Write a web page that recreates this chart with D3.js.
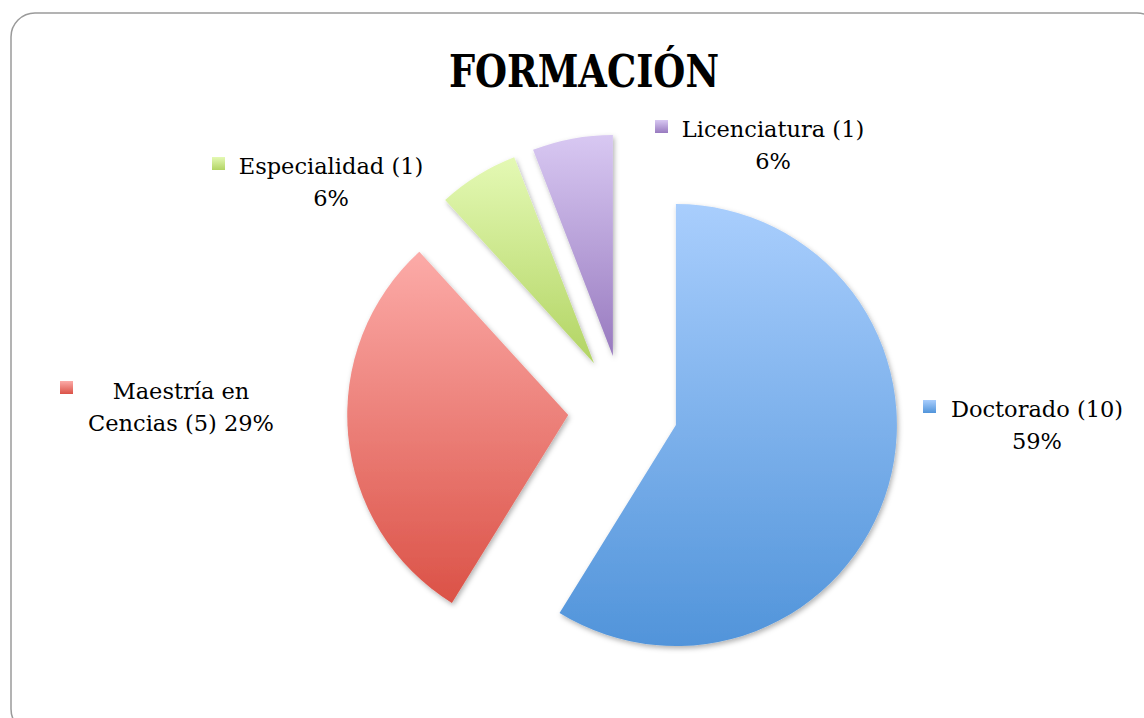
<!DOCTYPE html>
<html>
<head>
<meta charset="utf-8">
<script src="https://cdn.jsdelivr.net/npm/d3@7"></script>
<style>
  html, body { margin: 0; padding: 0; background: #fff; }
  svg { display: block; }
</style>
</head>
<body>
<svg id="chart" width="1144" height="718"></svg>
<script>
// ---- data ----
const categories = ["Doctorado", "Maestría en Cencias", "Especialidad", "Licenciatura"];
const values = [10, 5, 1, 1];
const title = "FORMACIÓN";

// ---- styles / layout (not data) ----
const colorsTop = ["#a9cefd", "#fcaba8", "#e4f9b4", "#d8c8f2"];
const colorsBottom = ["#5194da", "#db5247", "#b2d463", "#987abf"];
const labelLayout = [
  { cx: 1037, y: 417, kx: 923, ky: 400, firstWords: 2 },
  { cx: 181, y: 399, kx: 60, ky: 381, firstWords: 2 },
  { cx: 331, y: 174, kx: 212, ky: 157, firstWords: 2 },
  { cx: 773, y: 137, kx: 655, ky: 120, firstWords: 2 }
];

const svg = d3.select("#chart");
const defs = svg.append("defs");

// gradients
categories.forEach((c, i) => {
  const g = defs.append("linearGradient").attr("id", "grad" + i)
    .attr("x1", 0).attr("y1", 0).attr("x2", 0).attr("y2", 1);
  g.append("stop").attr("offset", "0%").attr("stop-color", colorsTop[i]);
  g.append("stop").attr("offset", "100%").attr("stop-color", colorsBottom[i]);
});
const f = defs.append("filter").attr("id", "shadow")
  .attr("x", "-20%").attr("y", "-20%").attr("width", "140%").attr("height", "140%");
f.append("feDropShadow").attr("dx", 1.5).attr("dy", 2.5).attr("stdDeviation", 2.5)
  .attr("flood-color", "#000").attr("flood-opacity", 0.3);

// frame
svg.append("rect").attr("x", 11).attr("y", 13).attr("width", 1150).attr("height", 720)
  .attr("rx", 24).attr("ry", 24).attr("fill", "#fff")
  .attr("stroke", "#9a9a9a").attr("stroke-width", 1.5);

// title
svg.append("text").attr("x", 584).attr("y", 87).attr("text-anchor", "middle")
  .attr("font-family", "'DejaVu Serif Condensed', 'DejaVu Serif', serif")
  .attr("font-weight", "bold").attr("font-size", 45)
  .attr("textLength", 270).attr("lengthAdjust", "spacingAndGlyphs")
  .attr("fill", "#000").text(title);

// pie
const cx = 623, cy = 410, R = 221, explode = 55;
const total = d3.sum(values);
const pie = d3.pie().sort(null).value(d => d);
const arc = d3.arc().innerRadius(0).outerRadius(R);
const arcs = pie(values);

const gPie = svg.append("g").attr("transform", `translate(${cx},${cy})`);
gPie.selectAll("path").data(arcs).join("path")
  .attr("d", arc)
  .attr("fill", (d, i) => `url(#grad${i})`)
  .attr("filter", "url(#shadow)")
  .attr("transform", d => {
    const a = (d.startAngle + d.endAngle) / 2;
    return `translate(${explode * Math.sin(a)},${-explode * Math.cos(a)})`;
  });

// labels
const fmtPct = v => Math.round(v / total * 100) + "%";
const lineH = 32;
categories.forEach((c, i) => {
  const L = labelLayout[i];
  const words = (`${c} (${values[i]}) ${fmtPct(values[i])}`).split(" ");
  const lines = [words.slice(0, L.firstWords).join(" "), words.slice(L.firstWords).join(" ")];
  svg.append("rect").attr("x", L.kx).attr("y", L.ky).attr("width", 13).attr("height", 13)
    .attr("fill", `url(#grad${i})`);
  const t = svg.append("text").attr("text-anchor", "middle")
    .attr("font-family", "'DejaVu Serif', serif").attr("font-size", 22.5).attr("fill", "#000");
  lines.forEach((ln, j) => {
    t.append("tspan").attr("x", L.cx).attr("y", L.y + j * lineH).text(ln);
  });
});
</script>
</body>
</html>
